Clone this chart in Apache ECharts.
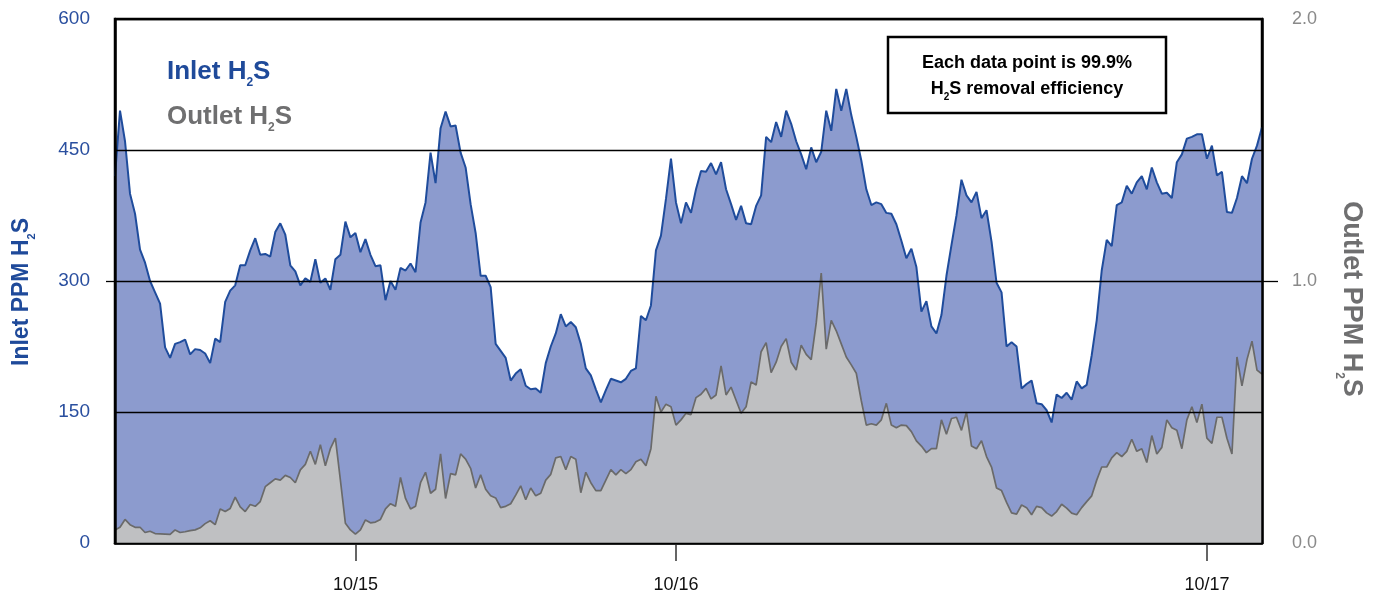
<!DOCTYPE html>
<html>
<head>
<meta charset="utf-8">
<script src="https://cdn.jsdelivr.net/npm/echarts@6/dist/echarts.min.js"></script>
<style>
html,body{margin:0;padding:0;background:#fff;}
#chart{width:1373px;height:603px;}
</style>
</head>
<body>
<div id="chart"></div>
<script>
// Inlet H2S (ppm, left axis)
const inlet = [
420,495,460,400,377,336,321,300,287,274,
224,212,228,230,233,216,222,221,217,206,
234,230,276,289,295,318,318,335,349,330,
331,328,356,366,353,318,311,295,303,299,
325,298,303,290,325,330,368,350,355,333,
348,330,317,318,278,300,290,315,312,320,
310,367,390,447,412,475,494,477,478,447,
430,388,355,306,306,293,228,220,212,186,
194,199,180,176,177,172,206,225,240,262,
248,253,247,228,200,192,176,161,175,188,
186,184,188,197,200,260,255,272,335,352,
394,440,390,366,390,378,405,426,425,435,
422,436,405,388,370,386,366,365,386,398,
465,459,482,465,495,480,460,445,428,453,
436,448,495,472,520,495,520,490,465,438,
405,387,390,388,378,377,365,346,326,337,
316,265,277,248,240,261,306,341,375,416,
398,390,402,372,381,345,298,287,225,230,
225,177,182,186,160,159,152,138,170,166,
172,164,185,177,181,215,255,312,347,340,
387,390,409,400,413,420,405,430,413,400,
401,395,436,445,463,465,468,468,440,455,
421,425,379,378,395,420,412,440,455,476
];
// Outlet H2S (ppm, right axis)
const outlet = [
0.05,0.06,0.09,0.07,0.06,0.06,0.04,0.045,0.036,0.035,
0.034,0.033,0.05,0.04,0.043,0.047,0.05,0.058,0.074,0.085,
0.07,0.13,0.12,0.132,0.175,0.138,0.12,0.147,0.14,0.158,
0.215,0.23,0.245,0.24,0.258,0.25,0.23,0.279,0.30,0.35,
0.30,0.375,0.295,0.36,0.40,0.24,0.075,0.05,0.034,0.05,
0.088,0.077,0.08,0.09,0.13,0.15,0.14,0.25,0.17,0.13,
0.14,0.23,0.27,0.19,0.205,0.34,0.17,0.265,0.26,0.34,
0.32,0.285,0.21,0.26,0.205,0.18,0.172,0.135,0.14,0.15,
0.183,0.218,0.165,0.21,0.18,0.19,0.24,0.262,0.325,0.33,
0.28,0.33,0.32,0.192,0.27,0.23,0.20,0.20,0.24,0.28,
0.26,0.28,0.265,0.28,0.31,0.32,0.295,0.36,0.56,0.50,
0.53,0.52,0.45,0.47,0.495,0.49,0.555,0.568,0.59,0.55,
0.565,0.676,0.565,0.595,0.545,0.495,0.52,0.615,0.603,0.73,
0.765,0.65,0.69,0.75,0.78,0.69,0.66,0.755,0.72,0.70,
0.84,1.03,0.74,0.85,0.81,0.76,0.71,0.68,0.648,0.543,
0.45,0.455,0.45,0.47,0.533,0.45,0.44,0.45,0.448,0.425,
0.39,0.37,0.345,0.36,0.36,0.47,0.415,0.475,0.48,0.43,
0.50,0.37,0.36,0.39,0.33,0.29,0.21,0.20,0.155,0.115,
0.11,0.145,0.135,0.108,0.14,0.135,0.115,0.103,0.12,0.148,
0.133,0.114,0.108,0.135,0.158,0.18,0.24,0.29,0.29,0.325,
0.345,0.33,0.35,0.396,0.35,0.36,0.307,0.41,0.34,0.365,
0.47,0.44,0.43,0.36,0.47,0.52,0.46,0.53,0.40,0.38,
0.48,0.48,0.40,0.34,0.71,0.60,0.70,0.77,0.66,0.645
];
// sample positions (categories) and the date ticks among them
const categories = inlet.map((_, i) => 'p' + i);
const tickIndex = [48, 112, 218];
const tickLabels = ['10/15', '10/16', '10/17'];
const leftTicks = [0, 150, 300, 450, 600];
const rightTicks = [0.0, 1.0, 2.0];

const BLUE_TXT = '#2a4f9f';
const GRAY_TXT = '#6f6f70';
const FONT = '"Liberation Sans", Arial, Helvetica, sans-serif';

const chart = echarts.init(document.getElementById('chart'), null, {renderer: 'canvas'});
const isTick = (idx) => tickIndex.indexOf(idx) >= 0;

// line box height that puts the subscript "2" just below the baseline
const subLine = (size, subSize) => Math.round(size / 2 + 0.42 * size + subSize / 2);
const subShift = (size, subSize) => (subLine(size, subSize) - size) / 2;

function subText(main1, main2, size, subSize, color) {
  return {
    text: '{a|' + main1 + '}{s|2}{a|' + main2 + '}',
    rich: {
      a: {fontSize: size, fontWeight: 'bold', fontFamily: FONT, fill: color,
        lineHeight: size, verticalAlign: 'top'},
      s: {fontSize: subSize, fontWeight: 'bold', fontFamily: FONT, fill: color,
        lineHeight: subLine(size, subSize), verticalAlign: 'bottom'}
    }
  };
}

chart.setOption({
  animation: false,
  backgroundColor: '#ffffff',
  grid: {left: 115, right: 111, top: 19, bottom: 60, show: true,
    borderColor: '#000', borderWidth: 2.5, backgroundColor: 'transparent'},
  xAxis: [{
    type: 'category',
    data: categories,
    boundaryGap: false,
    axisLine: {lineStyle: {color: '#000', width: 2.5}},
    axisTick: {interval: isTick, length: 18, lineStyle: {color: '#333', width: 1.5}},
    axisLabel: {
      interval: isTick,
      formatter: (v, idx) => tickLabels[tickIndex.indexOf(idx)] || '',
      color: '#111', fontSize: 18, fontFamily: FONT, margin: 33
    },
    splitLine: {show: false}
  }],
  yAxis: [{
    type: 'value',
    min: leftTicks[0], max: leftTicks[leftTicks.length - 1], interval: 150,
    position: 'left',
    z: 10,
    axisLine: {show: true, lineStyle: {color: '#000', width: 2.5}},
    axisTick: {show: false},
    axisLabel: {color: BLUE_TXT, fontSize: 19, fontFamily: FONT, margin: 25},
    splitLine: {show: true, lineStyle: {color: '#000', width: 1.3}}
  }, {
    type: 'value',
    min: rightTicks[0], max: rightTicks[rightTicks.length - 1], interval: 1,
    position: 'right',
    z: 10,
    axisLine: {show: true, lineStyle: {color: '#000', width: 2.5}},
    axisTick: {show: true, customValues: [1], length: 16, lineStyle: {color: '#000', width: 1.3}},
    axisLabel: {color: '#8a8a8a', fontSize: 18, fontFamily: FONT, margin: 30, formatter: (v) => v.toFixed(1)},
    splitLine: {show: false}
  }, {
    type: 'value',
    min: leftTicks[0], max: leftTicks[leftTicks.length - 1], interval: 150,
    position: 'left',
    z: 10,
    axisLine: {show: false},
    axisTick: {show: true, customValues: [300], length: 9, lineStyle: {color: '#000', width: 1.3}},
    axisLabel: {show: false},
    splitLine: {show: false}
  }],
  series: [{
    name: 'Inlet H2S',
    type: 'line',
    data: inlet,
    yAxisIndex: 0,
    symbol: 'none',
    lineStyle: {color: '#1f4c9c', width: 2},
    areaStyle: {color: '#8c9bce', opacity: 1},
    z: 2
  }, {
    name: 'Outlet H2S',
    type: 'line',
    data: outlet,
    yAxisIndex: 1,
    symbol: 'none',
    lineStyle: {color: '#6a6a6a', width: 1.7},
    areaStyle: {color: '#bfc0c2', opacity: 1},
    z: 3
  }],
  graphic: [
    {type: 'text', x: 167, y: 59, z: 20, style: subText('Inlet H', 'S', 26, 12, '#1f4a9a')},
    {type: 'text', x: 167, y: 104, z: 20, style: subText('Outlet H', 'S', 26, 12, GRAY_TXT)},
    {type: 'text', x: 22 + subShift(23, 11), y: 292, rotation: Math.PI / 2, z: 20,
      style: Object.assign(subText('Inlet PPM H', 'S', 23, 11, '#1f4a9a'), {align: 'center', verticalAlign: 'middle'})},
    {type: 'text', x: 1351 - subShift(27, 12), y: 299, rotation: -Math.PI / 2, z: 20,
      style: Object.assign(subText('Outlet PPM H', 'S', 27, 12, GRAY_TXT), {align: 'center', verticalAlign: 'middle'})},
    {type: 'rect', z: 20, shape: {x: 888, y: 37, width: 278, height: 76},
      style: {fill: '#fff', stroke: '#000', lineWidth: 2.5}},
    {type: 'text', x: 1027, y: 63, z: 21,
      style: {text: 'Each data point is 99.9%', align: 'center', verticalAlign: 'middle',
        fontSize: 18, fontWeight: 'bold', fontFamily: FONT, fill: '#000'}},
    {type: 'text', x: 1027, y: 89 + subShift(18, 10), z: 21,
      style: Object.assign(subText('H', 'S removal efficiency', 18, 10, '#000'), {align: 'center', verticalAlign: 'middle'})}
  ]
});
</script>
</body>
</html>
